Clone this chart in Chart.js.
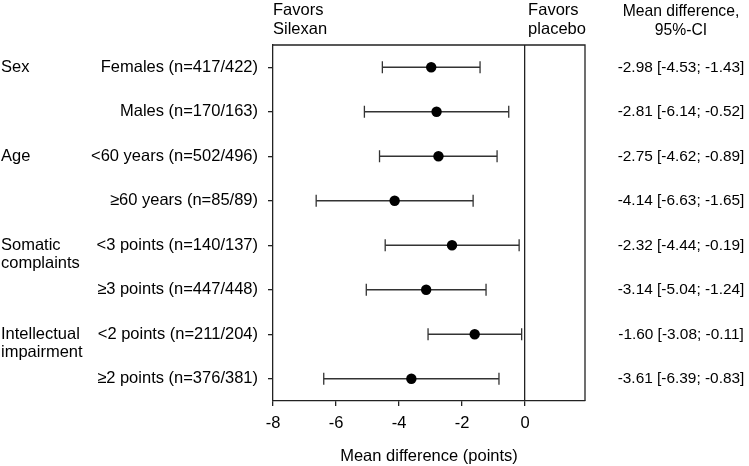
<!DOCTYPE html>
<html>
<head>
<meta charset="utf-8">
<script src="https://cdn.jsdelivr.net/npm/chart.js@4/dist/chart.umd.min.js"></script>
<style>
  html, body { margin: 0; padding: 0; background: #fff; }
  #wrap { width: 749px; height: 466px; }
</style>
</head>
<body>
<div id="wrap"><canvas id="forest" width="749" height="466"></canvas></div>
<script>
// Forest plot: Silexan vs placebo, mean difference by subgroup

const subgroupLabels = [
    'Females (n=417/422)',
    'Males (n=170/163)',
    '<60 years (n=502/496)',
    '\u226560 years (n=85/89)',
    '<3 points (n=140/137)',
    '\u22653 points (n=447/448)',
    '<2 points (n=211/204)',
    '\u22652 points (n=376/381)'
];
const groupLabels = [
    { row: 1, lines: ['Sex'] },
    { row: 3, lines: ['Age'] },
    { row: 5, lines: ['Somatic', 'complaints'] },
    { row: 7, lines: ['Intellectual', 'impairment'] }
];
// whisker ends as drawn in the plot
const meanDiff = [-2.98, -2.81, -2.75, -4.14, -2.32, -3.14, -1.60, -3.61];
const ciLower = [-4.53, -5.10, -4.62, -6.63, -4.44, -5.04, -3.08, -6.39];
const ciUpper = [-1.43, -0.52, -0.89, -1.65, -0.19, -1.24, -0.11, -0.83];
// right-hand column, as printed
const ciLabels = [
    '-2.98 [-4.53; -1.43]',
    '-2.81 [-6.14; -0.52]',
    '-2.75 [-4.62; -0.89]',
    '-4.14 [-6.63; -1.65]',
    '-2.32 [-4.44; -0.19]',
    '-3.14 [-5.04; -1.24]',
    '-1.60 [-3.08; -0.11]',
    '-3.61 [-6.39; -0.83]'
];
const xTickValues = [-8, -6, -4, -2, 0];

const FONT = 'Liberation Sans, Arial, Helvetica, sans-serif';
const INK = '#000';

// one dataset per whisker so the lines break between rows
const whiskerSets = meanDiff.map((m, i) => ({
    type: 'scatter',
    data: [{ x: ciLower[i], y: i + 1 }, { x: ciUpper[i], y: i + 1 }],
    showLine: true,
    borderColor: '#333',
    borderWidth: 1.3,
    pointStyle: 'line',
    rotation: 90,
    pointRadius: 6,
    pointBorderColor: '#333',
    pointBorderWidth: 1.3,
    pointHoverRadius: 6,
    order: 2
}));

const pointSet = {
    type: 'scatter',
    data: meanDiff.map((m, i) => ({ x: m, y: i + 1 })),
    pointStyle: 'circle',
    pointRadius: 5.2,
    pointBackgroundColor: INK,
    pointBorderColor: INK,
    pointBorderWidth: 0,
    showLine: false,
    order: 0
};

const sideTextPlugin = {
    id: 'sideText',
    afterDraw(chart) {
        const { ctx, chartArea, scales } = chart;
        const y = scales.y;
        const x = scales.x;
        ctx.save();

        // frame of the plot area (top and right edges)
        ctx.strokeStyle = '#222';
        ctx.lineWidth = 1.3;
        ctx.beginPath();
        ctx.moveTo(chartArea.left, chartArea.top);
        ctx.lineTo(chartArea.right, chartArea.top);
        ctx.lineTo(chartArea.right, chartArea.bottom);
        ctx.stroke();

        ctx.fillStyle = INK;
        ctx.font = `16.5px ${FONT}`;
        ctx.textBaseline = 'middle';

        // group labels on the far left
        ctx.textAlign = 'left';
        groupLabels.forEach(g => {
            const py = y.getPixelForValue(g.row);
            g.lines.forEach((line, k) => ctx.fillText(line, 1, py + k * 18.5));
        });

        // headers above the plot
        ctx.fillText('Favors', chartArea.left, 10);
        ctx.fillText('Silexan', chartArea.left, 29);
        const zeroX = x.getPixelForValue(0);
        ctx.fillText('Favors', zeroX + 3, 10);
        ctx.fillText('placebo', zeroX + 3, 29);

        // CI column on the right
        ctx.textAlign = 'center';
        const colX = 681;
        ctx.font = `15.7px ${FONT}`;
        ctx.fillText('Mean difference,', colX, 12);
        ctx.fillText('95%-CI', colX, 31);
        ctx.font = `15.4px ${FONT}`;
        ciLabels.forEach((txt, i) => {
            ctx.fillText(txt, colX, y.getPixelForValue(i + 1));
        });
        ctx.restore();
    }
};

new Chart(document.getElementById('forest').getContext('2d'), {
    type: 'scatter',
    data: { datasets: [pointSet, ...whiskerSets] },
    options: {
        responsive: false,
        animation: false,
        layout: { padding: { left: 0, right: 164, top: 45, bottom: 0 } },
        plugins: {
            legend: { display: false },
            tooltip: { enabled: false }
        },
        scales: {
            x: {
                type: 'linear',
                min: -8,
                max: 1.9,
                afterBuildTicks: scale => {
                    scale.ticks = xTickValues.map(v => ({ value: v }));
                },
                afterFit: scale => { scale.height = 65; },
                ticks: {
                    color: INK,
                    font: { family: FONT, size: 16.5 },
                    padding: 8,
                    maxRotation: 0,
                    callback: v => String(v)
                },
                grid: {
                    drawOnChartArea: true,
                    color: c => (c.tick && c.tick.value === 0 ? '#222' : 'rgba(0,0,0,0)'),
                    lineWidth: 1.3,
                    tickColor: '#222',
                    tickLength: 5
                },
                border: { color: '#222', width: 1.3 },
                title: {
                    display: true,
                    text: 'Mean difference (points)',
                    color: INK,
                    font: { family: FONT, size: 16.5 },
                    padding: { top: 4, bottom: 0 }
                }
            },
            y: {
                type: 'linear',
                min: 0.5,
                max: 8.5,
                reverse: true,
                afterBuildTicks: scale => {
                    scale.ticks = subgroupLabels.map((s, i) => ({ value: i + 1 }));
                },
                afterFit: scale => { scale.width = 273; },
                ticks: {
                    color: INK,
                    font: { family: FONT, size: 16.5 },
                    padding: 10,
                    callback: v => subgroupLabels[v - 1]
                },
                grid: {
                    drawOnChartArea: false,
                    tickColor: '#222',
                    tickLength: 5,
                    lineWidth: 1.3
                },
                border: { color: '#222', width: 1.3 }
            }
        }
    },
    plugins: [sideTextPlugin]
});
</script>
</body>
</html>
